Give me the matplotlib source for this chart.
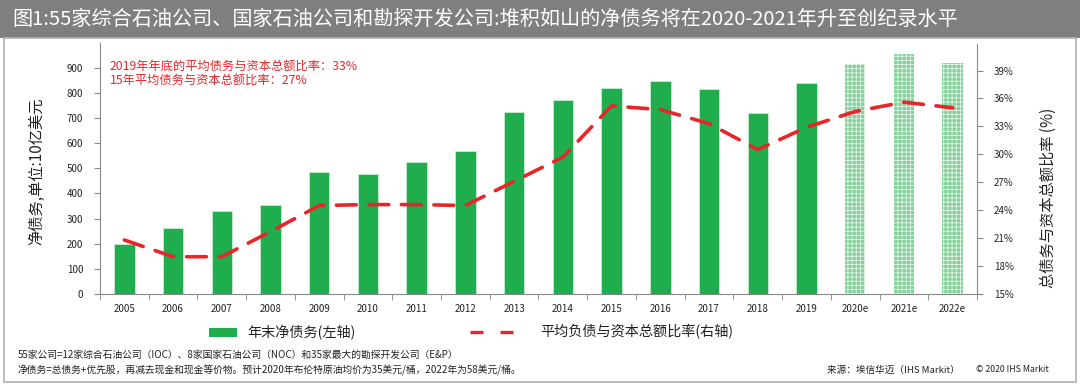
import matplotlib
matplotlib.use("Agg")
import matplotlib.pyplot as plt
from matplotlib.patches import Rectangle
from matplotlib.lines import Line2D
import numpy as np

plt.rcParams['font.family'] = ['Noto Sans CJK SC', 'DejaVu Sans']
plt.rcParams['hatch.linewidth'] = 0.6

years = ['2005', '2006', '2007', '2008', '2009', '2010', '2011', '2012', '2013',
         '2014', '2015', '2016', '2017', '2018', '2019', '2020e', '2021e', '2022e']
net_debt = [200, 263, 330, 355, 485, 478, 525, 571, 726, 773, 818, 846, 815, 720, 839, 916, 955, 920]
ratio = [20.8, 19.0, 19.0, 21.7, 24.5, 24.6, 24.6, 24.5, 27.1, 29.7, 35.2, 34.8, 33.3, 30.5, 32.9, 34.6, 35.6, 35.0]
forecast = [False] * 15 + [True] * 3
left_ticks = [0, 100, 200, 300, 400, 500, 600, 700, 800, 900]
right_ticks = [15, 18, 21, 24, 27, 30, 33, 36, 39]

title = '图1:55家综合石油公司、国家石油公司和勘探开发公司:堆积如山的净债务将在2020-2021年升至创纪录水平'
ylabel_left = '净债务,单位:10亿美元'
ylabel_right = '总债务与资本总额比率 (%)'
note1 = '2019年年底的平均债务与资本总额比率：33%'
note2 = '15年平均债务与资本总额比率：27%'
legend_bar = '年末净债务(左轴)'
legend_line = '平均负债与资本总额比率(右轴)'
foot1 = '55家公司=12家综合石油公司（IOC）、8家国家石油公司（NOC）和35家最大的勘探开发公司（E&P）'
foot2 = '净债务=总债务+优先股，再减去现金和现金等价物。预计2020年布伦特原油均价为35美元/桶，2022年为58美元/桶。'
source = '来源：埃信华迈（IHS Markit）'
copy = '© 2020 IHS Markit'

W, H = 1080, 387
fig = plt.figure(figsize=(W / 100, H / 100), dpi=100)

# title banner
fig.patches.append(Rectangle((0, 1 - 38 / H), 1, 38 / H, transform=fig.transFigure,
                             facecolor='#7f7f7f', edgecolor='none', zorder=0))
fig.text(12 / W, 1 - 19 / H, title, color='white', fontsize=14.5, va='center', ha='left')
# outer border
fig.patches.append(Rectangle((4 / W, 5 / H), (W - 8) / W, (H - 5 - 38) / H, transform=fig.transFigure,
                             facecolor='none', edgecolor='#b0b0b0', linewidth=1.2, zorder=0))

L, R, B, T = 100, 977, 294, 43.5
ax = fig.add_axes([L / W, 1 - B / H, (R - L) / W, (B - T) / H])
x = np.arange(len(years))
green = '#1fad4e'
for xi, v, f in zip(x, net_debt, forecast):
    if f:
        ax.bar(xi, v, width=0.42, facecolor='#84d09a', edgecolor='#e2f5e7', hatch='++++',
               linewidth=0, zorder=2)
    else:
        ax.bar(xi, v, width=0.42, facecolor=green, edgecolor='#c8ecd2', linewidth=0.6, zorder=2)

ax.set_xlim(-0.5, len(years) - 0.5)
ax.set_ylim(0, 997)
ax.set_yticks(left_ticks)
ax.set_yticklabels([str(t) for t in left_ticks], fontsize=7, color='#222222')
ax.set_xticks(x)
ax.set_xticklabels(years, fontsize=7, color='#222222')
ax.tick_params(axis='x', length=0, pad=7)
ax.set_xticks(np.arange(-0.5, len(years), 1), minor=True)
ax.tick_params(axis='x', which='minor', length=4, color='#888888', direction='out')
ax.tick_params(axis='y', length=4, color='#888888', direction='out', pad=8)
for s in ['top', 'right']:
    ax.spines[s].set_visible(False)
ax.spines['left'].set_color('#888888')
ax.spines['bottom'].set_color('#888888')
ax.set_ylabel(ylabel_left, fontsize=11, color='#222222')
ax.yaxis.set_label_coords((45 - L) / (R - L), 0.49)

ax2 = ax.twinx()
ax2.plot(x, ratio, color='#e8262a', linewidth=2.6, linestyle=(0, (5.5, 3.5)), zorder=3,
         dash_capstyle='round')
ax2.set_ylim(15, 41.9)
ax2.set_yticks(right_ticks)
ax2.set_yticklabels([f'{t}%' for t in right_ticks], fontsize=7, color='#222222')
ax2.tick_params(axis='y', length=4, color='#888888', direction='out', pad=8)
for s in ['top', 'left', 'bottom']:
    ax2.spines[s].set_visible(False)
ax2.spines['right'].set_color('#888888')
ax2.set_ylabel(ylabel_right, fontsize=11, rotation=90, color='#222222')
ax2.yaxis.set_label_coords((1040 - L) / (R - L), 0.385)

fig.text(110 / W, 1 - 66 / H, note1, color='#e8262a', fontsize=8.8, va='center')
fig.text(110 / W, 1 - 80 / H, note2, color='#e8262a', fontsize=8.8, va='center')

# legend
fig.patches.append(Rectangle((209 / W, 1 - 337 / H), 28 / W, 9 / H, transform=fig.transFigure,
                             facecolor=green, edgecolor='none'))
fig.text(247 / W, 1 - 332 / H, legend_bar, fontsize=10.2, va='center', color='#222222')
for x0, x1 in [(470, 483), (500, 513)]:
    fig.lines.append(Line2D([x0 / W, x1 / W], [1 - 332 / H, 1 - 332 / H], transform=fig.transFigure,
                            color='#e8262a', linewidth=2.4, solid_capstyle='butt'))
fig.text(540 / W, 1 - 332 / H, legend_line, fontsize=10.2, va='center', color='#222222')

fig.text(18 / W, 1 - 355 / H, foot1, fontsize=7.05, va='center', color='#222222')
fig.text(18 / W, 1 - 370 / H, foot2, fontsize=7.05, va='center', color='#222222')
fig.text(827 / W, 1 - 370 / H, source, fontsize=6.9, va='center', color='#222222')
fig.text(976 / W, 1 - 370 / H, copy, fontsize=6.3, va='center', color='#222222')

fig.savefig('out.png', dpi=100)
